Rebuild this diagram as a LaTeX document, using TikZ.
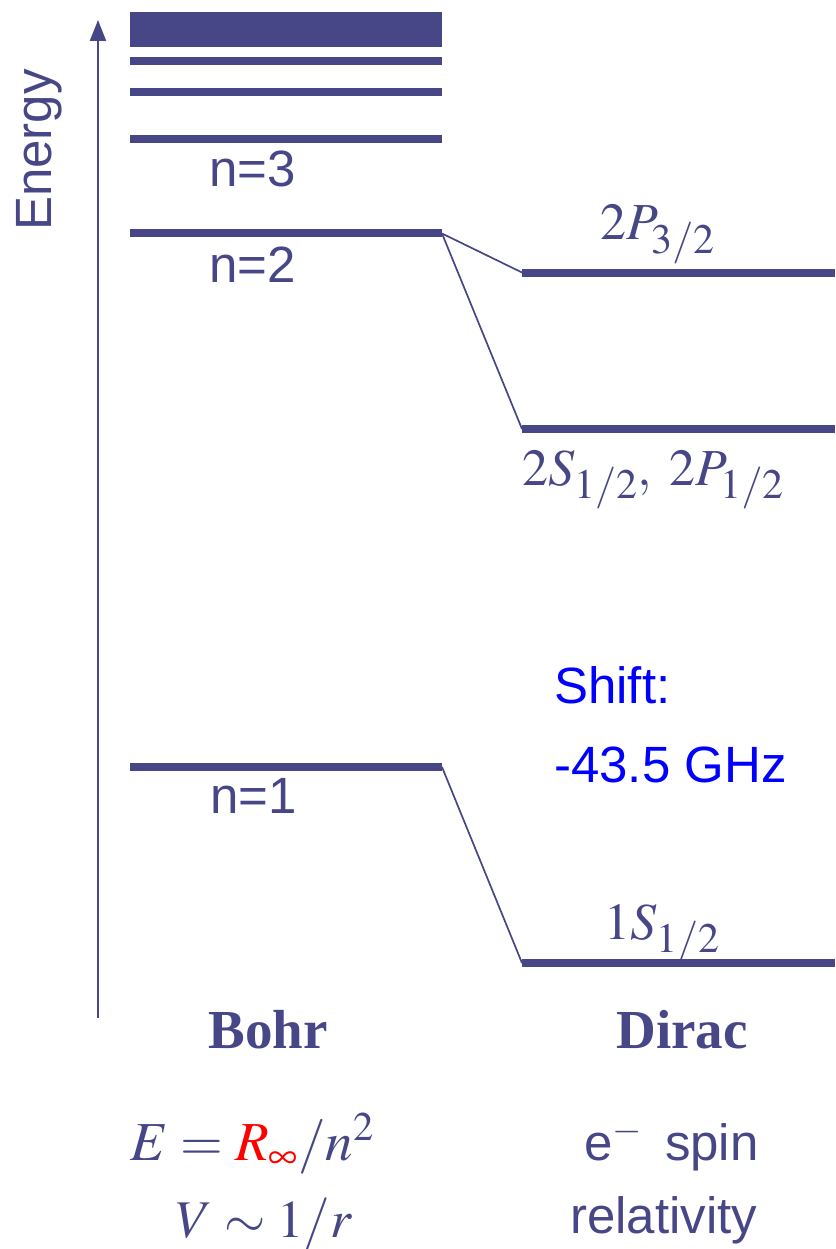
\documentclass[tikz,border=0pt]{standalone}
\usepackage{mathptmx}
\usepackage{fontspec}
\setmainfont{Liberation Serif}
\setsansfont{Liberation Sans}
\usetikzlibrary{arrows.meta}
\DeclareMathSizes{52}{52}{42}{32}
\definecolor{dk}{RGB}{71,71,135}
\definecolor{shiftblue}{RGB}{0,0,255}
\definecolor{rred}{RGB}{255,0,0}
\tikzset{
  lvl/.style={line width=8pt, draw=dk},
  conn/.style={line width=1.7pt, draw=dk},
  sflabel/.style={font=\fontsize{51}{61}\selectfont\sffamily, text=dk, inner sep=0pt, anchor=base west},
  mlabel/.style={font=\fontsize{52}{62}\selectfont, text=dk, inner sep=0pt, anchor=base west},
  title/.style={font=\fontsize{55}{65}\selectfont\bfseries, text=dk, inner sep=0pt, anchor=base},
}
\begin{document}
\begin{tikzpicture}[x=1pt,y=-1pt]
\useasboundingbox (0,0) rectangle (835,1249);
% energy axis
\coordinate (ax0) at (98,1018);
\coordinate (ax1) at (98,20);
\draw[line width=2.2pt, dk, -{Triangle[length=21pt,width=16pt]}] (ax0) -- (ax1);
\node[sflabel, rotate=90, anchor=base] (energy) at (51,150) {Energy};
% Bohr levels
\fill[dk] (130,12) rectangle (442,47);
\coordinate (b6l) at (130,61);  \coordinate (b6r) at (442,61);
\coordinate (b5l) at (130,92.5); \coordinate (b5r) at (442,92.5);
\coordinate (b4l) at (130,139); \coordinate (b4r) at (442,139);
\coordinate (b2l) at (130,233.5); \coordinate (b2r) at (442,233.5);
\coordinate (b1l) at (130,767); \coordinate (b1r) at (442,767);
\draw[lvl] (b6l) -- (b6r);
\draw[lvl] (b5l) -- (b5r);
\draw[lvl] (b4l) -- (b4r);
\draw[lvl] (b2l) -- (b2r);
\draw[lvl] (b1l) -- (b1r);
\node[sflabel] (n3) at (209,187) {n=3};
\node[sflabel] (n2) at (209,282) {n=2};
\node[sflabel] (n1) at (210,813) {n=1};
% Dirac levels
\coordinate (p32l) at (522,272.5); \coordinate (p32r) at (835,272.5);
\coordinate (s12l) at (522,429);   \coordinate (s12r) at (835,429);
\coordinate (s1l) at (522,963);    \coordinate (s1r) at (835,963);
\draw[lvl] (p32l) -- (p32r);
\draw[lvl] (s12l) -- (s12r);
\draw[lvl] (s1l) -- (s1r);
\draw[conn] (b2r) -- (p32l);
\draw[conn] (b2r) -- (s12l);
\draw[conn] (b1r) -- (s1l);
\node[mlabel] (lp32) at (600,240) {$2P_{3/2}$};
\node[mlabel] (ls12) at (522,485) {$2S_{1/2},\;2P_{1/2}$};
\node[mlabel] (l1s) at (604,939) {$1S_{1/2}$};
% shift
\node[sflabel, text=shiftblue] (shift1) at (554,703) {Shift:};
\node[sflabel, text=shiftblue] (shift2) at (554,782) {-43.5 GHz};
% titles
\node[title] (bohr) at (268,1048) {Bohr};
\node[title] (dirac) at (682,1048) {Dirac};
% formulas
\node[mlabel, font=\fontsize{55}{65}\selectfont] (feq) at (130,1160) {$E=\textcolor{rred}{R_\infty}/n^2$};
\node[mlabel, font=\fontsize{53}{63}\selectfont] (veq) at (176,1237) {$V\sim 1/r$};
\node[sflabel] (spin) at (584,1160) {e\textsuperscript{$-$}\, spin};
\node[sflabel] (rel) at (570,1233) {relativity};
\end{tikzpicture}
\end{document}
